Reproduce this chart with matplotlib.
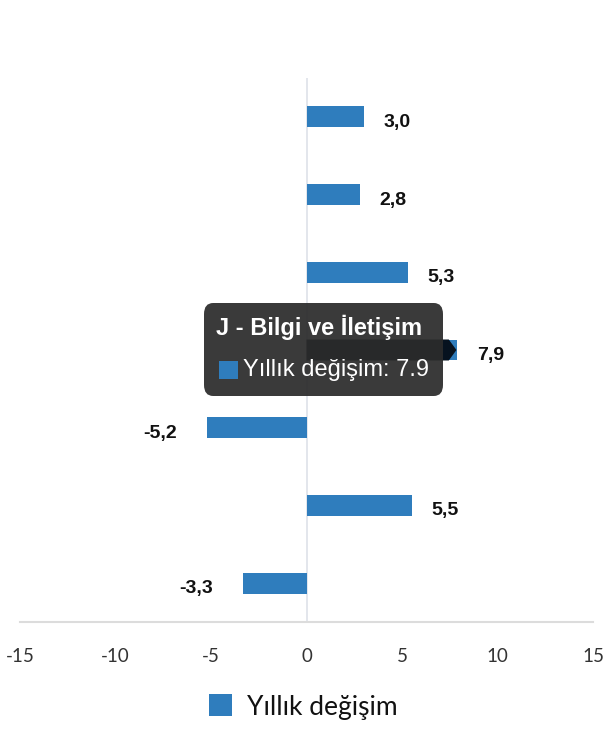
import matplotlib
matplotlib.use("Agg")
import matplotlib.pyplot as plt
from matplotlib.patches import FancyBboxPatch, Polygon, Rectangle

categories = [
    "G - Ticaret",
    "H - Ulaştırma ve Depolama",
    "I - Konaklama",
    "J - Bilgi ve İletişim",
    "K - Finans ve Sigorta",
    "L - Gayrimenkul",
    "M - Mesleki Faaliyetler",
]
values = [3.0, 2.8, 5.3, 7.9, -5.2, 5.5, -3.3]
series_name = "Yıllık değişim"
xticks = [-15, -10, -5, 0, 5, 10, 15]
hover_index = 3

bar_color = "#2f7dbd"

fig = plt.figure(figsize=(6.1, 7.4), dpi=100)
ax = fig.add_axes([20 / 610, 1 - 622 / 740, 573 / 610, 544 / 740])

y = list(range(len(categories)))
ax.barh(y, values, height=0.27, color=bar_color, zorder=2, label=series_name)
ax.set_xlim(-15, 15)
ax.set_ylim(len(categories) - 0.5, -0.5)
ax.set_yticks([])
ax.set_xticks(xticks)
ax.set_xticklabels([str(t) for t in xticks], fontfamily="Lato", fontsize=13.5, color="#333333")
ax.tick_params(axis="x", length=0, pad=19)

for s in ["top", "right", "left"]:
    ax.spines[s].set_visible(False)
ax.spines["bottom"].set_color("#dcdcdc")
ax.spines["bottom"].set_linewidth(1.5)
ax.axvline(0, color="#e1e4ea", linewidth=1.3, zorder=1)

for yi, v in zip(y, values):
    txt = f"{v:.1f}".replace(".", ",")
    if v >= 0:
        ax.annotate(txt, (v, yi), xytext=(14, -4), textcoords="offset points",
                    ha="left", va="center", fontsize=14, fontweight="bold",
                    fontfamily="Liberation Sans", color="#111111", zorder=3)
    else:
        ax.annotate(txt, (v, yi), xytext=(-22, -4), textcoords="offset points",
                    ha="right", va="center", fontsize=14, fontweight="bold",
                    fontfamily="Liberation Sans", color="#111111", zorder=3)

# hover tooltip
hv = values[hover_index]
tip = FancyBboxPatch((204 / 610, 1 - 396 / 740), 239 / 610, 93 / 740,
                     boxstyle="round,pad=0,rounding_size=0.015",
                     transform=fig.transFigure, facecolor="#2b2b2b", alpha=0.93,
                     edgecolor="none", zorder=10)
fig.patches.append(tip)
# darkened bar with caret
caret = Polygon([(0, hover_index - 0.135), (hv - 0.45, hover_index - 0.135),
                 (hv - 0.05, hover_index), (hv - 0.45, hover_index + 0.135),
                 (0, hover_index + 0.135)],
                closed=True, facecolor="#06121f", edgecolor="none", zorder=4)
ax.add_patch(caret)
fig.text(216 / 610, 1 - 327 / 740, categories[hover_index], color="white",
         fontsize=17, fontweight="bold", fontfamily="Liberation Sans",
         va="center", ha="left", zorder=11)
fig.patches.append(Rectangle((219 / 610, 1 - 379 / 740), 19 / 610, 18 / 740,
                             transform=fig.transFigure, facecolor=bar_color,
                             edgecolor="none", zorder=11))
fig.text(243 / 610, 1 - 370 / 740, f"{series_name}: {hv}", color="white",
         fontsize=17, fontfamily="Liberation Sans", va="center", ha="left", zorder=11)

leg = fig.legend(loc="center", bbox_to_anchor=(303 / 610, 1 - 707 / 740), frameon=False,
                 prop={"family": "Lato", "size": 19}, handlelength=0.9, handleheight=0.9,
                 handletextpad=0.55)
for t in leg.get_texts():
    t.set_color("#111111")

fig.savefig("out.png", dpi=100)
